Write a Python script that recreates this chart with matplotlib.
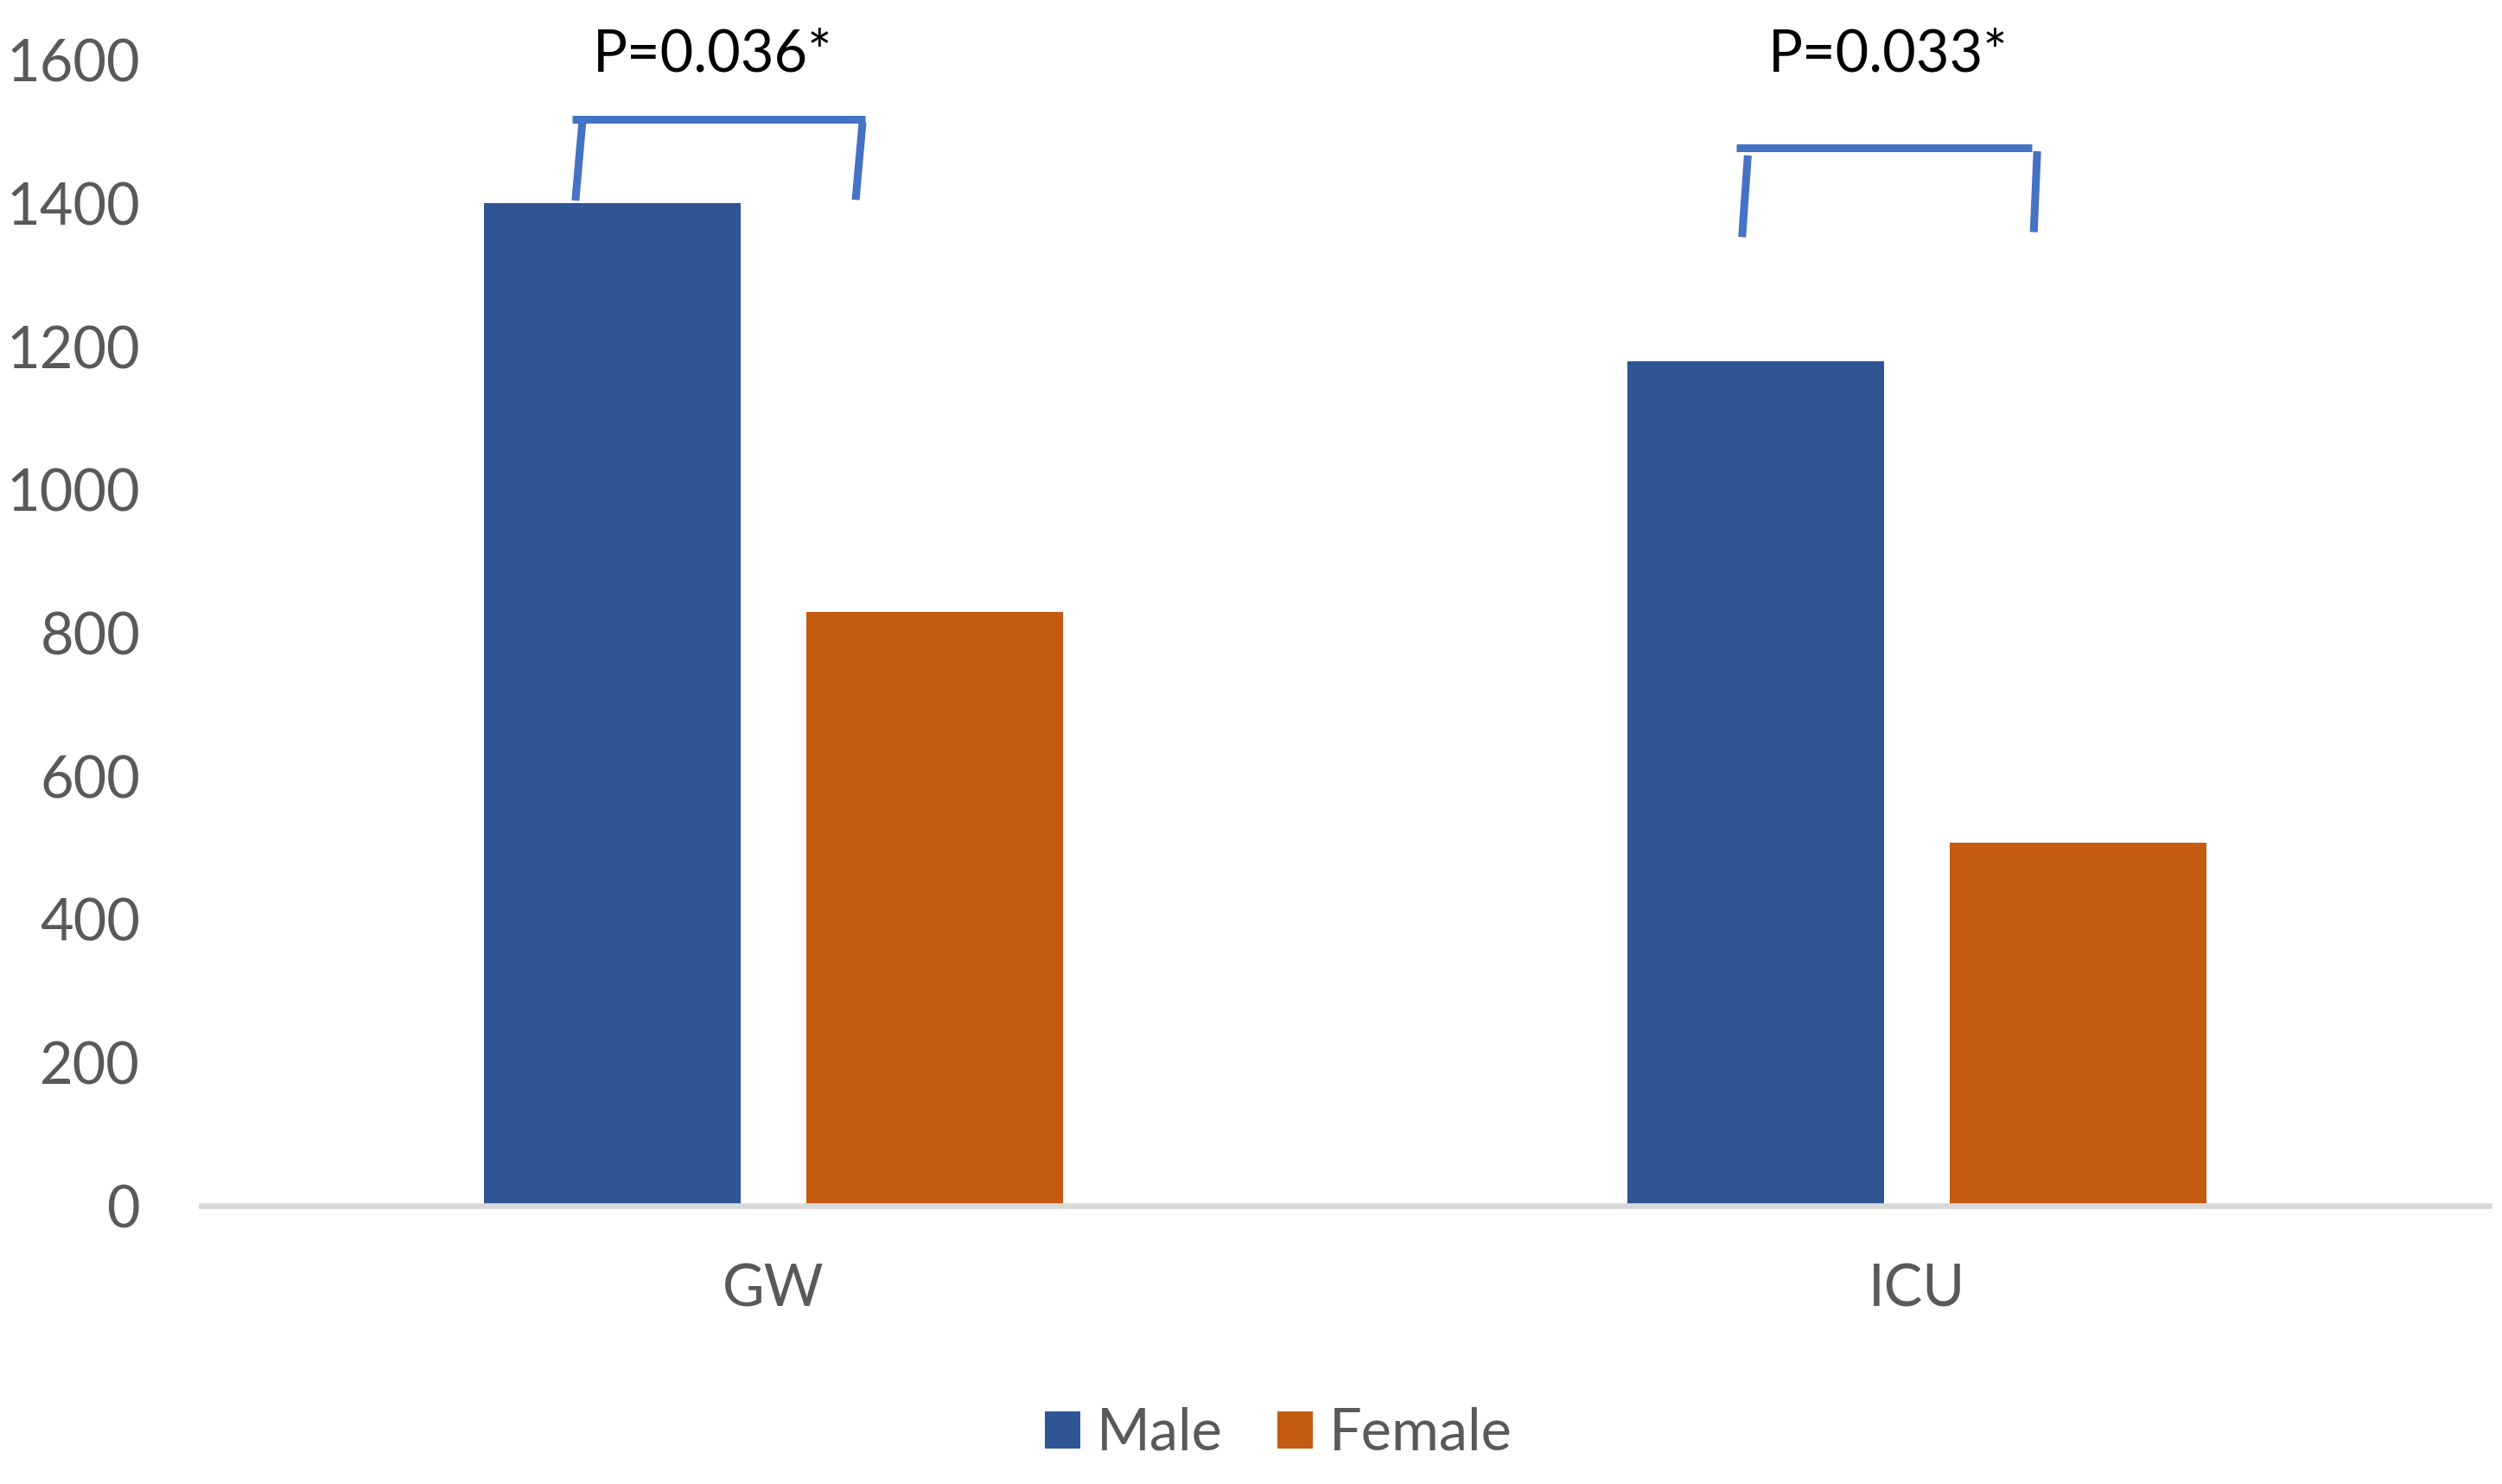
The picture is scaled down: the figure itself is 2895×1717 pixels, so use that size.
"""
Male vs female bar chart for GW and ICU, with significance brackets.
"""

import matplotlib
matplotlib.use("Agg")
import matplotlib.pyplot as plt
import numpy as np

categories = ["GW", "ICU"]
male = [1400, 1180]
female = [830, 507]
p_labels = ["P=0.036*", "P=0.033*"]

# bracket shapes, one per category: (x, y) points relative to category center
bracket_top = [1518, 1478]
bracket_span = [(-0.176, 0.080), (-0.158, 0.100)]
bracket_left_leg = [((-0.167, 1513), (-0.173, 1404)), ((-0.148, 1467), (-0.153, 1353))]
bracket_right_leg = [((0.078, 1513), (0.072, 1405)), ((0.105, 1473), (0.102, 1360))]
p_label_x = [-0.053, -0.025]
p_label_y = 1584

MALE_COLOR = "#2F5597"
FEMALE_COLOR = "#C55A11"
BRACKET_COLOR = "#4472C4"
TEXT_GRAY = "#595959"


def main():
    plt.rcParams["font.family"] = ["Lato", "DejaVu Sans"]
    fs = 48

    fig = plt.figure(figsize=(28.95, 17.17), dpi=100)
    ax = fig.add_axes([0.0805, 0.18736, 0.9948 - 0.0805, 0.95941 - 0.18736])

    x = np.arange(len(categories))
    width = 0.2245
    offset = 0.141
    ax.bar(x - offset, male, width=width, color=MALE_COLOR, label="Male", zorder=1)
    ax.bar(x + offset, female, width=width, color=FEMALE_COLOR, label="Female", zorder=1)

    ax.set_xlim(-0.5, len(categories) - 0.5)
    ax.set_ylim(0, 1600)
    ax.set_yticks(np.arange(0, 1601, 200))
    ax.set_xticks(x)
    ax.set_xticklabels(categories)

    for side in ["top", "right", "left"]:
        ax.spines[side].set_visible(False)
    ax.spines["bottom"].set_color("#D9D9D9")
    ax.spines["bottom"].set_linewidth(4.8)
    ax.spines["bottom"].set_zorder(3)

    ax.tick_params(axis="y", length=0, pad=51, labelsize=fs, labelcolor=TEXT_GRAY)
    ax.tick_params(axis="x", length=0, pad=48, labelsize=fs, labelcolor=TEXT_GRAY)

    lw = 6.5
    for i, cx in enumerate(x):
        x0, x1 = bracket_span[i]
        ax.plot([cx + x0, cx + x1], [bracket_top[i]] * 2, color=BRACKET_COLOR,
                lw=lw, solid_capstyle="butt", clip_on=False, zorder=4)
        for leg in (bracket_left_leg[i], bracket_right_leg[i]):
            (ax0, ay0), (ax1, ay1) = leg
            ax.plot([cx + ax0, cx + ax1], [ay0, ay1], color=BRACKET_COLOR,
                    lw=lw, solid_capstyle="butt", clip_on=False, zorder=4)
        ax.text(cx + p_label_x[i], p_label_y, p_labels[i], ha="center", va="baseline",
                fontsize=fs, color="black", clip_on=False)

    leg = fig.legend(loc="center", bbox_to_anchor=(0.511, 0.0338), ncol=2, frameon=False,
                     fontsize=fs, handlelength=0.615, handleheight=0.63,
                     handletextpad=0.285, columnspacing=0.945, borderpad=0)
    for t in leg.get_texts():
        t.set_color(TEXT_GRAY)

    fig.savefig("out.png", dpi=100)


if __name__ == "__main__":
    main()
